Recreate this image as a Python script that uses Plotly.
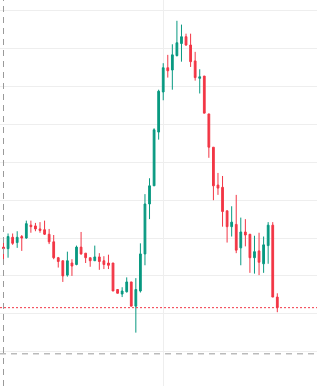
import plotly.graph_objects as go

# OHLC values (one candle per period)
opens = [21.38, 21.36, 21.51, 21.44, 21.52, 21.50, 21.67, 21.66, 21.62, 21.61,
         21.55, 21.45, 21.24, 21.20, 21.01, 21.17, 21.15, 21.38, 21.30, 21.24,
         21.20, 21.25, 21.20, 21.17, 21.17, 20.82, 20.76, 20.79, 20.92, 20.60,
         20.80, 21.29, 21.95, 22.19, 22.90, 23.43, 23.75, 23.72, 23.91, 24.07,
         24.16, 24.05, 23.84, 23.61, 23.64, 23.14, 22.70, 22.20, 22.17, 21.86,
         21.65, 21.68, 21.37, 21.58, 21.55, 21.24, 21.33, 21.16, 21.40, 21.67,
         20.72]
highs = [21.45, 21.56, 21.56, 21.59, 21.54, 21.73, 21.73, 21.70, 21.71, 21.73,
         21.62, 21.54, 21.25, 21.20, 21.32, 21.22, 21.40, 21.58, 21.30, 21.24,
         21.40, 21.30, 21.26, 21.28, 21.17, 20.82, 20.85, 20.98, 20.92, 20.97,
         21.43, 22.08, 22.29, 22.95, 23.46, 23.81, 23.92, 24.06, 24.37, 24.32,
         24.20, 24.20, 23.96, 23.73, 23.64, 23.14, 22.70, 22.36, 22.32, 21.86,
         21.92, 22.07, 21.77, 21.75, 21.55, 21.53, 21.57, 21.52, 21.71, 21.71,
         20.77]
lows = [21.21, 21.24, 21.41, 21.37, 21.33, 21.49, 21.57, 21.59, 21.57, 21.54,
        21.42, 21.22, 21.11, 20.92, 20.99, 21.00, 21.14, 21.28, 21.17, 21.12,
        21.20, 21.08, 21.09, 21.09, 20.80, 20.77, 20.72, 20.78, 20.60, 20.25,
        20.78, 21.14, 21.75, 22.19, 22.80, 23.32, 23.62, 23.46, 23.90, 23.83,
        24.04, 23.76, 23.58, 23.41, 23.15, 22.56, 22.00, 22.07, 21.65, 21.44,
        21.52, 21.30, 21.14, 21.39, 21.04, 21.03, 21.01, 21.04, 21.16, 20.72,
        20.52]
closes = [21.36, 21.52, 21.43, 21.51, 21.50, 21.69, 21.65, 21.62, 21.60, 21.55,
          21.45, 21.24, 21.19, 21.00, 21.20, 21.13, 21.38, 21.29, 21.24, 21.20,
          21.25, 21.19, 21.15, 21.14, 20.80, 20.77, 20.80, 20.92, 20.60, 20.82,
          21.29, 21.95, 22.19, 22.93, 23.44, 23.75, 23.71, 23.92, 24.08, 24.16,
          24.05, 23.83, 23.62, 23.63, 23.15, 22.70, 22.19, 22.16, 21.85, 21.65,
          21.71, 21.34, 21.58, 21.54, 21.24, 21.32, 21.18, 21.41, 21.67, 20.72,
          20.58]
periods = list(range(len(opens)))

x_grid_ticks = [35]
crosshair_price = 19.97

UP = "#089981"
DOWN = "#F23645"

fig = go.Figure(go.Candlestick(
    x=periods, open=opens, high=highs, low=lows, close=closes,
    increasing=dict(line=dict(color=UP, width=1), fillcolor=UP),
    decreasing=dict(line=dict(color=DOWN, width=1), fillcolor=DOWN),
    whiskerwidth=0,
    hoverinfo="skip",
))

# last price line (dotted)
fig.add_shape(type="line", xref="paper", x0=0, x1=1, yref="y",
              y0=closes[-1], y1=closes[-1],
              line=dict(color=DOWN, width=1, dash="2px,2px"), layer="above")
# crosshair lines (dashed)
fig.add_shape(type="line", xref="x", x0=periods[0], x1=periods[0], yref="paper",
              y0=0, y1=1, line=dict(color="#9a9a9a", width=1, dash="6px,5px"),
              layer="above")
fig.add_shape(type="line", xref="paper", x0=0, x1=1, yref="y",
              y0=crosshair_price, y1=crosshair_price,
              line=dict(color="#9a9a9a", width=1, dash="6px,5px"), layer="above")

fig.update_layout(
    width=317, height=386,
    margin=dict(l=0, r=0, t=0, b=0),
    paper_bgcolor="white", plot_bgcolor="white",
    showlegend=False,
    boxgap=0.45,
    xaxis=dict(range=[-0.767, 68.70], rangeslider=dict(visible=False),
               tickmode="array", tickvals=x_grid_ticks, showticklabels=False,
               showgrid=True, gridcolor="#eeeeee", gridwidth=1,
               zeroline=False, showline=False, ticks=""),
    yaxis=dict(range=[19.545, 24.645], tick0=20, dtick=0.5,
               showticklabels=False, showgrid=True, gridcolor="#eeeeee",
               gridwidth=1, zeroline=False, showline=False, ticks=""),
)

fig.write_html("out.html")
